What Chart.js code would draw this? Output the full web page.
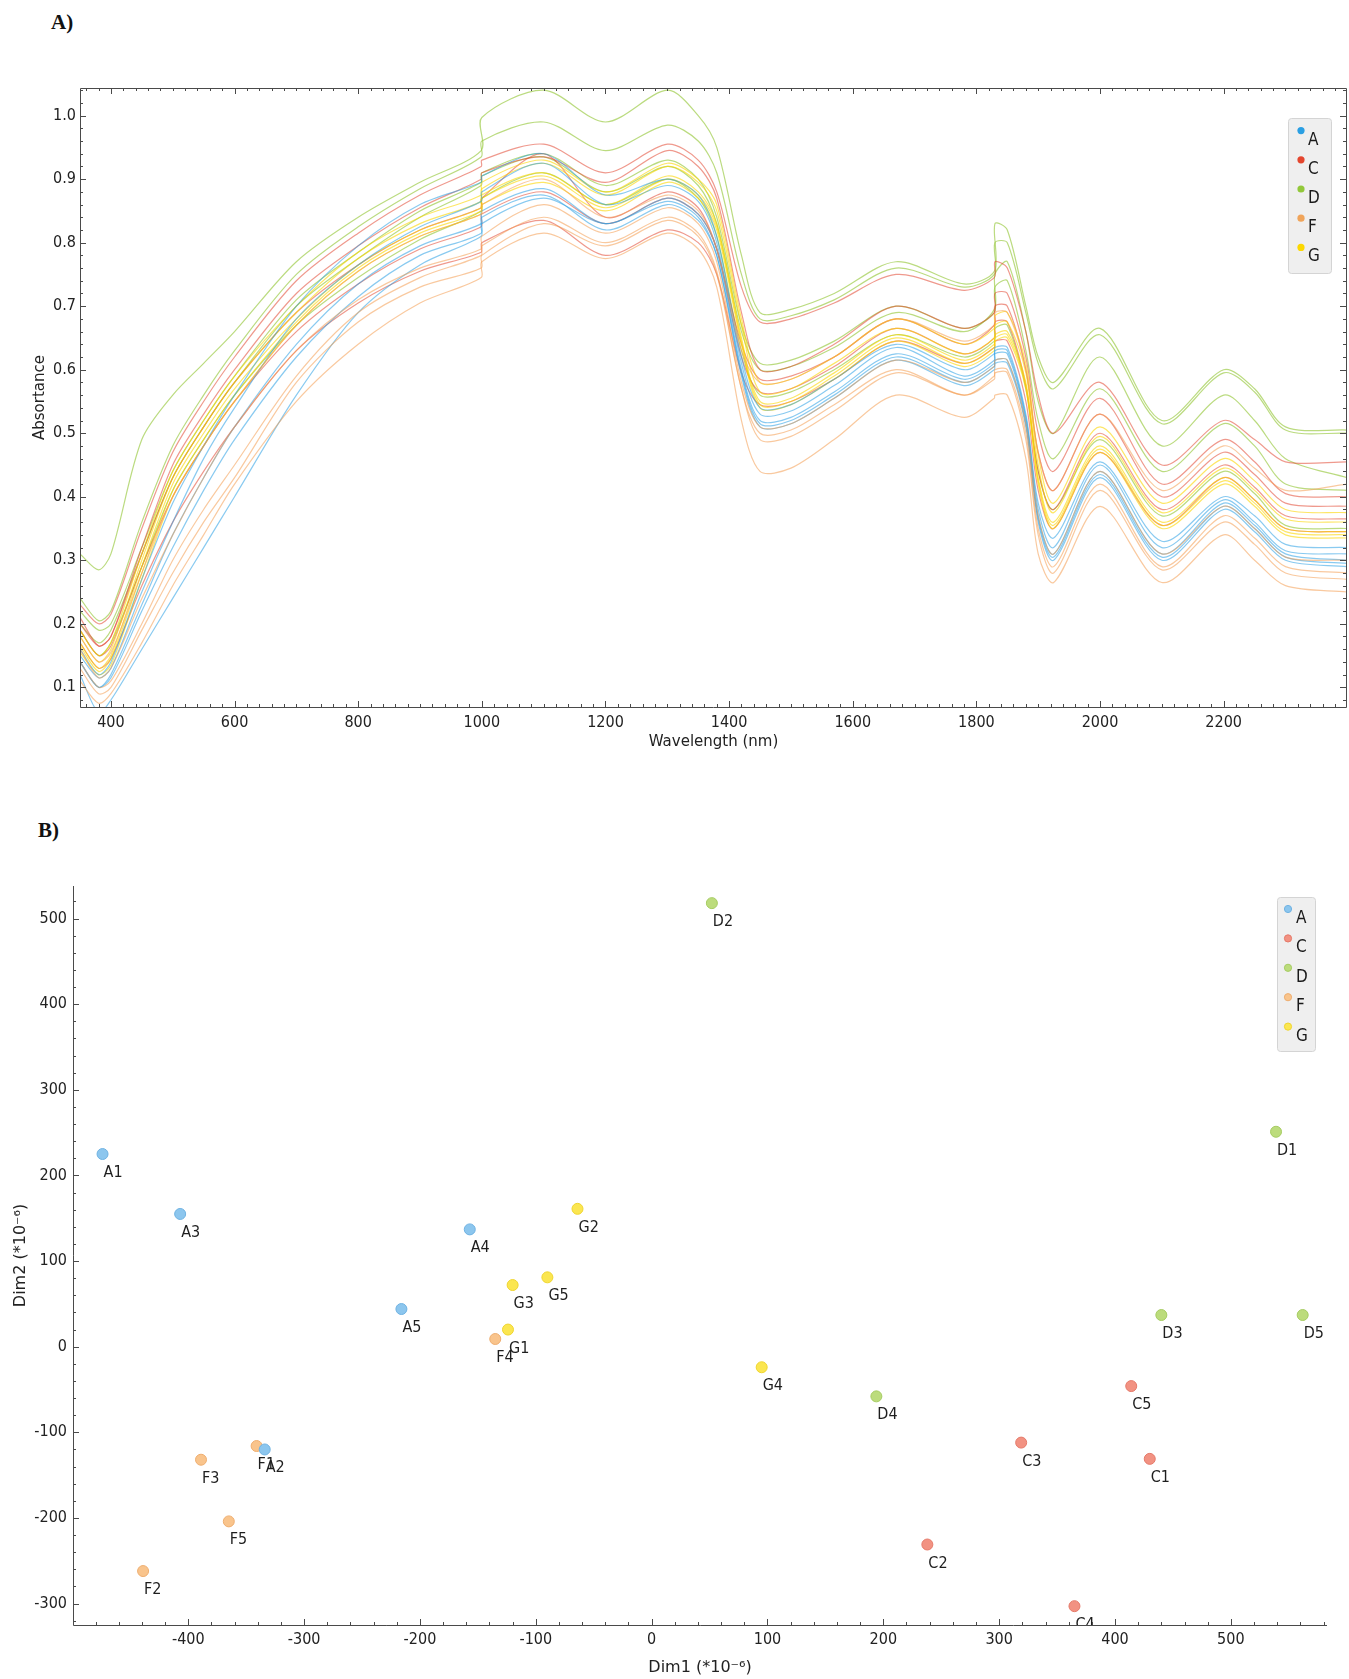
<!DOCTYPE html>
<html>
<head>
<meta charset="utf-8">
<script src="https://cdn.jsdelivr.net/npm/chart.js@4.4.1/dist/chart.umd.min.js"></script>
<style>
  body { margin: 0; background: #fff; width: 1349px; height: 1679px; position: relative; overflow: hidden; }
  .panel { position: absolute; font: bold 21px 'Liberation Serif', 'Times New Roman', serif; color: #111; }
  canvas { position: absolute; left: 0; }
</style>
</head>
<body>
<div class="panel" style="left:51px; top:10px;">A)</div>
<div class="panel" style="left:38px; top:818px;">B)</div>
<canvas id="spectra" width="1349" height="760" style="top:0"></canvas>
<canvas id="scores" width="1349" height="829" style="top:850px"></canvas>
<script>
// ---- data: NIR spectra (panel A) ----
const wavelengths = [350, 380, 400, 450, 500, 550, 600, 700, 800, 900,
  999, 1000, 1100, 1200, 1300, 1350, 1380, 1420, 1450, 1500,
  1570, 1670, 1780, 1829, 1830, 1850, 1880, 1900, 1925, 2000,
  2100, 2200, 2250, 2300, 2400];

const absA1 = [0.12, 0.06, 0.08, 0.16, 0.24, 0.32, 0.40, 0.56, 0.69, 0.765,
  0.81, 0.83, 0.87, 0.83, 0.865, 0.84, 0.78, 0.59, 0.51, 0.515,
  0.555, 0.615, 0.575, 0.60, 0.61, 0.61, 0.51, 0.36, 0.30, 0.43,
  0.30, 0.38, 0.345, 0.30, 0.29];
const absA2 = [0.14, 0.10, 0.12, 0.23, 0.34, 0.43, 0.51, 0.64, 0.735, 0.795,
  0.83, 0.85, 0.885, 0.83, 0.87, 0.845, 0.79, 0.60, 0.52, 0.525,
  0.565, 0.625, 0.585, 0.61, 0.625, 0.625, 0.52, 0.37, 0.31, 0.44,
  0.31, 0.39, 0.355, 0.31, 0.30];
const absA3 = [0.15, 0.115, 0.13, 0.25, 0.36, 0.46, 0.54, 0.68, 0.765, 0.825,
  0.865, 0.88, 0.925, 0.86, 0.89, 0.865, 0.80, 0.61, 0.53, 0.535,
  0.575, 0.635, 0.59, 0.615, 0.63, 0.63, 0.525, 0.38, 0.32, 0.45,
  0.32, 0.395, 0.36, 0.315, 0.31];
const absA4 = [0.16, 0.12, 0.14, 0.27, 0.39, 0.48, 0.56, 0.70, 0.795, 0.86,
  0.895, 0.905, 0.94, 0.875, 0.90, 0.875, 0.81, 0.62, 0.54, 0.545,
  0.585, 0.64, 0.60, 0.625, 0.635, 0.635, 0.53, 0.39, 0.335, 0.455,
  0.33, 0.40, 0.37, 0.325, 0.32];
const absA5 = [0.14, 0.10, 0.115, 0.22, 0.32, 0.41, 0.49, 0.62, 0.715, 0.78,
  0.815, 0.84, 0.875, 0.82, 0.86, 0.835, 0.78, 0.595, 0.515, 0.52,
  0.56, 0.62, 0.58, 0.605, 0.615, 0.615, 0.515, 0.365, 0.305, 0.435,
  0.305, 0.385, 0.35, 0.305, 0.295];

const absC1 = [0.23, 0.20, 0.215, 0.35, 0.47, 0.55, 0.62, 0.74, 0.815, 0.875,
  0.92, 0.93, 0.955, 0.91, 0.955, 0.93, 0.88, 0.73, 0.675, 0.68,
  0.705, 0.75, 0.725, 0.745, 0.77, 0.76, 0.66, 0.56, 0.50, 0.58,
  0.45, 0.52, 0.49, 0.455, 0.455];
const absC2 = [0.21, 0.165, 0.18, 0.31, 0.43, 0.51, 0.58, 0.69, 0.765, 0.82,
  0.855, 0.87, 0.94, 0.84, 0.88, 0.855, 0.79, 0.64, 0.585, 0.59,
  0.62, 0.68, 0.64, 0.67, 0.70, 0.70, 0.60, 0.47, 0.41, 0.53,
  0.40, 0.47, 0.435, 0.39, 0.385];
const absC3 = [0.19, 0.15, 0.165, 0.29, 0.40, 0.48, 0.55, 0.66, 0.735, 0.79,
  0.825, 0.845, 0.88, 0.83, 0.87, 0.845, 0.79, 0.62, 0.565, 0.57,
  0.605, 0.665, 0.625, 0.65, 0.675, 0.675, 0.575, 0.44, 0.38, 0.50,
  0.38, 0.45, 0.415, 0.37, 0.365];
const absC4 = [0.17, 0.13, 0.145, 0.26, 0.36, 0.44, 0.51, 0.63, 0.705, 0.755,
  0.785, 0.80, 0.835, 0.78, 0.82, 0.80, 0.75, 0.595, 0.545, 0.55,
  0.585, 0.645, 0.61, 0.635, 0.645, 0.645, 0.55, 0.41, 0.35, 0.47,
  0.355, 0.43, 0.395, 0.35, 0.345];
const absC5 = [0.20, 0.165, 0.18, 0.32, 0.45, 0.53, 0.60, 0.72, 0.795, 0.855,
  0.90, 0.91, 0.935, 0.895, 0.945, 0.92, 0.87, 0.69, 0.60, 0.605,
  0.64, 0.70, 0.665, 0.69, 0.72, 0.72, 0.62, 0.50, 0.44, 0.555,
  0.42, 0.49, 0.455, 0.405, 0.40];

const absD1 = [0.31, 0.285, 0.31, 0.49, 0.56, 0.61, 0.66, 0.77, 0.84, 0.895,
  0.945, 0.997, 1.04, 0.99, 1.04, 1.00, 0.95, 0.78, 0.69, 0.695,
  0.72, 0.77, 0.735, 0.755, 0.83, 0.82, 0.70, 0.62, 0.58, 0.665,
  0.52, 0.60, 0.57, 0.51, 0.505];
const absD2 = [0.24, 0.205, 0.22, 0.36, 0.48, 0.56, 0.63, 0.75, 0.825, 0.885,
  0.935, 0.96, 0.99, 0.945, 0.985, 0.96, 0.91, 0.75, 0.68, 0.685,
  0.71, 0.76, 0.73, 0.75, 0.80, 0.80, 0.69, 0.61, 0.57, 0.655,
  0.515, 0.595, 0.565, 0.505, 0.50];
const absD3 = [0.20, 0.17, 0.19, 0.31, 0.43, 0.51, 0.58, 0.70, 0.775, 0.84,
  0.89, 0.905, 0.935, 0.88, 0.92, 0.89, 0.83, 0.66, 0.60, 0.605,
  0.635, 0.69, 0.66, 0.695, 0.75, 0.77, 0.66, 0.55, 0.50, 0.62,
  0.48, 0.56, 0.52, 0.46, 0.43];
const absD4 = [0.19, 0.15, 0.17, 0.29, 0.41, 0.49, 0.56, 0.67, 0.745, 0.805,
  0.85, 0.87, 0.91, 0.86, 0.90, 0.87, 0.81, 0.63, 0.56, 0.565,
  0.60, 0.655, 0.62, 0.645, 0.665, 0.67, 0.57, 0.44, 0.38, 0.49,
  0.37, 0.44, 0.405, 0.355, 0.35];
const absD5 = [0.22, 0.19, 0.20, 0.32, 0.44, 0.52, 0.59, 0.71, 0.785, 0.85,
  0.895, 0.91, 0.94, 0.89, 0.93, 0.90, 0.84, 0.67, 0.61, 0.615,
  0.645, 0.70, 0.665, 0.69, 0.73, 0.74, 0.63, 0.52, 0.46, 0.57,
  0.44, 0.515, 0.48, 0.42, 0.41];

const absF1 = [0.13, 0.09, 0.10, 0.19, 0.28, 0.36, 0.43, 0.58, 0.675, 0.73,
  0.76, 0.78, 0.83, 0.795, 0.835, 0.81, 0.75, 0.57, 0.50, 0.505,
  0.545, 0.60, 0.56, 0.59, 0.60, 0.60, 0.50, 0.35, 0.29, 0.42,
  0.29, 0.37, 0.335, 0.29, 0.28];
const absF2 = [0.11, 0.075, 0.09, 0.17, 0.26, 0.34, 0.42, 0.55, 0.64, 0.705,
  0.745, 0.77, 0.815, 0.775, 0.815, 0.79, 0.73, 0.52, 0.44, 0.445,
  0.49, 0.56, 0.525, 0.555, 0.56, 0.56, 0.46, 0.31, 0.265, 0.385,
  0.265, 0.34, 0.30, 0.26, 0.25];
const absF3 = [0.16, 0.115, 0.13, 0.24, 0.34, 0.43, 0.51, 0.63, 0.71, 0.76,
  0.79, 0.81, 0.86, 0.815, 0.855, 0.83, 0.77, 0.58, 0.51, 0.515,
  0.555, 0.615, 0.58, 0.605, 0.615, 0.615, 0.515, 0.37, 0.31, 0.44,
  0.31, 0.385, 0.35, 0.305, 0.30];
const absF4 = [0.18, 0.14, 0.155, 0.28, 0.40, 0.48, 0.55, 0.67, 0.755, 0.81,
  0.845, 0.86, 0.90, 0.84, 0.875, 0.85, 0.79, 0.63, 0.58, 0.585,
  0.62, 0.68, 0.645, 0.67, 0.69, 0.69, 0.60, 0.47, 0.41, 0.53,
  0.41, 0.48, 0.445, 0.41, 0.42];
const absF5 = [0.14, 0.10, 0.11, 0.20, 0.30, 0.38, 0.45, 0.59, 0.69, 0.745,
  0.78, 0.795, 0.84, 0.80, 0.84, 0.815, 0.755, 0.57, 0.49, 0.495,
  0.535, 0.595, 0.56, 0.585, 0.595, 0.595, 0.49, 0.34, 0.28, 0.41,
  0.285, 0.36, 0.325, 0.28, 0.27];

const absG1 = [0.17, 0.13, 0.15, 0.29, 0.42, 0.50, 0.57, 0.68, 0.765, 0.82,
  0.855, 0.875, 0.91, 0.86, 0.905, 0.88, 0.83, 0.65, 0.55, 0.555,
  0.595, 0.655, 0.615, 0.64, 0.655, 0.66, 0.58, 0.43, 0.36, 0.48,
  0.36, 0.43, 0.395, 0.35, 0.345];
const absG2 = [0.18, 0.14, 0.16, 0.30, 0.43, 0.51, 0.58, 0.69, 0.775, 0.83,
  0.865, 0.885, 0.925, 0.875, 0.92, 0.895, 0.85, 0.67, 0.565, 0.57,
  0.61, 0.665, 0.625, 0.65, 0.67, 0.675, 0.595, 0.45, 0.375, 0.495,
  0.375, 0.445, 0.41, 0.365, 0.36];
const absG3 = [0.155, 0.12, 0.135, 0.27, 0.40, 0.48, 0.55, 0.67, 0.755, 0.81,
  0.845, 0.86, 0.895, 0.85, 0.895, 0.87, 0.82, 0.64, 0.54, 0.545,
  0.585, 0.645, 0.605, 0.63, 0.645, 0.65, 0.57, 0.42, 0.35, 0.47,
  0.35, 0.42, 0.385, 0.34, 0.335];
const absG4 = [0.19, 0.15, 0.17, 0.31, 0.44, 0.52, 0.59, 0.70, 0.785, 0.84,
  0.875, 0.895, 0.93, 0.88, 0.925, 0.90, 0.86, 0.68, 0.58, 0.585,
  0.62, 0.68, 0.64, 0.665, 0.685, 0.69, 0.61, 0.465, 0.39, 0.51,
  0.39, 0.46, 0.425, 0.38, 0.375];
const absG5 = [0.165, 0.125, 0.145, 0.28, 0.41, 0.49, 0.56, 0.675, 0.76, 0.815,
  0.85, 0.87, 0.905, 0.855, 0.90, 0.875, 0.825, 0.645, 0.545, 0.55,
  0.59, 0.65, 0.61, 0.635, 0.65, 0.655, 0.575, 0.425, 0.355, 0.475,
  0.355, 0.425, 0.39, 0.345, 0.34];

// ---- data: scores (panel B) ----
const scoreNames = ['A1', 'A2', 'A3', 'A4', 'A5', 'C1', 'C2', 'C3', 'C4', 'C5',
  'D1', 'D2', 'D3', 'D4', 'D5', 'F1', 'F2', 'F3', 'F4', 'F5',
  'G1', 'G2', 'G3', 'G4', 'G5'];
const scoreDim1 = [-474, -334, -407, -157, -216, 430, 238, 319, 365, 414,
  539, 52, 440, 194, 562, -341, -439, -389, -135, -365,
  -124, -64, -120, 95, -90];
const scoreDim2 = [225, -120, 155, 137, 44, -131, -231, -112, -303, -46,
  251, 518, 37, -58, 37, -116, -262, -132, 9, -204,
  20, 161, 72, -24, 81];

const groups = ['A', 'C', 'D', 'F', 'G'];
const lineColors = ['rgba(40,158,228,0.55)', 'rgba(226,70,48,0.55)', 'rgba(150,200,60,0.65)',
  'rgba(244,156,80,0.55)', 'rgba(252,214,0,0.6)'];
const dotColors = ['#2a9fe3', '#e4462e', '#92c83a', '#f0a45a', '#fcd800'];
const scoreFill = ['#8cc6ee', '#f29282', '#bcdc7c', '#f9c48c', '#fbe650'];
const scoreEdge = ['#6fb2e2', '#e57a6a', '#a6cc62', '#eeae70', '#efd530'];

const FONT = "'DejaVu Sans Condensed', 'DejaVu Sans', sans-serif";
Chart.defaults.font.family = FONT;
Chart.defaults.font.size = 16;
Chart.defaults.color = '#222';

// frame line + small inward tick marks, placed through the chart scales
const frameTicks = {
  id: 'frameTicks',
  afterDraw(chart, args, o) {
    const { ctx, chartArea: a } = chart;
    const xs = chart.scales.x, ys = chart.scales.y;
    ctx.save();
    ctx.strokeStyle = '#4a4a4a';
    ctx.lineWidth = 1;
    ctx.beginPath();
    if (o.box) {
      ctx.rect(a.left + 0.5, a.top + 0.5, a.right - a.left - 1, a.bottom - a.top);
    } else {
      ctx.moveTo(a.left + 0.5, a.top);
      ctx.lineTo(a.left + 0.5, a.bottom + 0.5);
      ctx.lineTo(a.right, a.bottom + 0.5);
    }
    const mark = (scale, step, major, fn) => {
      const start = Math.ceil(scale.min / step - 1e-9);
      for (let k = start; k * step <= scale.max + 1e-9; k++) {
        const v = k * step;
        const isMajor = Math.abs(v / major - Math.round(v / major)) < 1e-6;
        fn(Math.round(scale.getPixelForValue(v)) + 0.5, isMajor ? 6 : 3);
      }
    };
    mark(xs, o.xMinor, o.xMajor, (px, len) => {
      ctx.moveTo(px, a.bottom); ctx.lineTo(px, a.bottom - len);
      if (o.box) { ctx.moveTo(px, a.top); ctx.lineTo(px, a.top + len); }
    });
    mark(ys, o.yMinor, o.yMajor, (py, len) => {
      ctx.moveTo(a.left, py); ctx.lineTo(a.left + len, py);
      if (o.box) { ctx.moveTo(a.right - 1, py); ctx.lineTo(a.right - 1 - len, py); }
    });
    ctx.stroke();
    ctx.restore();
  }
};

// grey legend box inside the plot
const boxLegend = {
  id: 'boxLegend',
  afterDraw(chart, args, o) {
    const { ctx, chartArea: a } = chart;
    const left = a.right - o.right - o.w, top = a.top + o.top;
    ctx.save();
    ctx.fillStyle = '#efefef';
    ctx.strokeStyle = '#d4d4d4';
    ctx.lineWidth = 1;
    ctx.beginPath();
    ctx.roundRect(left + 0.5, top + 0.5, o.w, o.h, 3);
    ctx.fill();
    ctx.stroke();
    ctx.font = o.fontSize + 'px ' + FONT;
    ctx.textBaseline = 'alphabetic';
    groups.forEach((g, i) => {
      const cy = top + o.dotY + i * o.gap;
      ctx.beginPath();
      ctx.arc(left + o.dotX, cy, o.r, 0, Math.PI * 2);
      ctx.fillStyle = o.fill[i];
      ctx.fill();
      if (o.edge) { ctx.strokeStyle = o.edge[i]; ctx.stroke(); }
      ctx.fillStyle = '#1a1a1a';
      ctx.fillText(g, left + o.textX, cy + o.textDy);
    });
    ctx.restore();
  }
};

// sample names under each score point
const pointNames = {
  id: 'pointNames',
  afterDatasetsDraw(chart) {
    const { ctx, chartArea: a } = chart;
    ctx.save();
    ctx.beginPath();
    ctx.rect(a.left, a.top, a.right - a.left, a.bottom - a.top);
    ctx.clip();
    ctx.font = '16px ' + FONT;
    ctx.fillStyle = '#1e1e1e';
    ctx.textBaseline = 'alphabetic';
    chart.data.datasets.forEach((ds, i) => {
      chart.getDatasetMeta(i).data.forEach((pt, j) => {
        ctx.fillText(ds.data[j].name, pt.x + 1, pt.y + 23);
      });
    });
    ctx.restore();
  }
};

// ---- panel A ----
const spectraRows = [
  ['F1', absF1], ['F2', absF2], ['F3', absF3], ['F4', absF4], ['F5', absF5],
  ['A1', absA1], ['A2', absA2], ['A3', absA3], ['A4', absA4], ['A5', absA5],
  ['G1', absG1], ['G2', absG2], ['G3', absG3], ['G4', absG4], ['G5', absG5],
  ['C1', absC1], ['C2', absC2], ['C3', absC3], ['C4', absC4], ['C5', absC5],
  ['D1', absD1], ['D2', absD2], ['D3', absD3], ['D4', absD4], ['D5', absD5]
];

const spectraChart = new Chart(document.getElementById('spectra'), {
  type: 'line',
  data: {
    datasets: spectraRows.map(([name, vals]) => ({
      label: name,
      data: wavelengths.map((w, i) => ({ x: w, y: vals[i] })),
      borderColor: lineColors[groups.indexOf(name[0])],
      borderWidth: 1.2,
      pointRadius: 0,
      tension: 0.3,
      fill: false
    }))
  },
  options: {
    responsive: false,
    animation: false,
    layout: { padding: { top: 88, left: 0, right: 2, bottom: 3 } },
    plugins: {
      legend: { display: false },
      tooltip: { enabled: false },
      frameTicks: { box: true, xMinor: 20, xMajor: 200, yMinor: 0.02, yMajor: 0.1 },
      boxLegend: { right: 16, top: 30, w: 43, h: 155, dotX: 13, dotY: 12.6, gap: 29.2,
        textX: 20, textDy: 14, r: 3.6, fontSize: 17, fill: dotColors }
    },
    scales: {
      x: {
        type: 'linear',
        min: 350,
        max: 2399.5,
        grid: { display: false, drawTicks: false },
        border: { display: false },
        ticks: { stepSize: 200, includeBounds: false, padding: 6, maxRotation: 0,
          callback: (v) => String(v) },
        title: { display: true, text: 'Wavelength (nm)', font: { size: 15, family: "'DejaVu Sans', sans-serif" },
          padding: { top: 0, bottom: 6 } },
        afterFit: (s) => { s.height = 50; }
      },
      y: {
        min: 0.069,
        max: 1.0435,
        grid: { display: false, drawTicks: false },
        border: { display: false },
        ticks: { stepSize: 0.1, includeBounds: false, padding: 4, callback: (v) => v.toFixed(1) },
        title: { display: true, text: 'Absortance', font: { size: 15, family: "'DejaVu Sans', sans-serif" },
          padding: { top: 31, bottom: 0 } },
        afterFit: (s) => { s.width = 80; }
      }
    }
  },
  plugins: [frameTicks, boxLegend]
});

// ---- panel B ----
const scoresChart = new Chart(document.getElementById('scores'), {
  type: 'scatter',
  data: {
    datasets: groups.map((g, gi) => ({
      label: g,
      data: scoreNames
        .map((n, i) => ({ x: scoreDim1[i], y: scoreDim2[i], name: n }))
        .filter((p) => p.name[0] === g),
      backgroundColor: scoreFill[gi],
      borderColor: scoreEdge[gi],
      borderWidth: 1,
      pointRadius: 5.5
    }))
  },
  options: {
    responsive: false,
    animation: false,
    layout: { padding: { top: 36, left: 0, right: 22, bottom: 0 } },
    plugins: {
      legend: { display: false },
      tooltip: { enabled: false },
      frameTicks: { box: false, xMinor: 20, xMajor: 100, yMinor: 20, yMajor: 100 },
      boxLegend: { right: 12, top: 11, w: 38, h: 154, dotX: 11, dotY: 12, gap: 29.4,
        textX: 19, textDy: 14, r: 3.6, fontSize: 17, fill: scoreFill, edge: scoreEdge }
    },
    scales: {
      x: {
        type: 'linear',
        min: -499.5,
        max: 583,
        grid: { display: false, drawTicks: false },
        border: { display: false },
        ticks: { stepSize: 100, includeBounds: false, padding: 5, maxRotation: 0,
          callback: (v) => String(v) },
        title: { display: true, text: 'Dim1 (*10\u207B\u2076)', font: { size: 16, family: "'DejaVu Sans', sans-serif" },
          padding: { top: 0, bottom: 2 } },
        afterFit: (s) => { s.height = 54; }
      },
      y: {
        min: -325,
        max: 538,
        grid: { display: false, drawTicks: false },
        border: { display: false },
        ticks: { stepSize: 100, includeBounds: false, padding: 6, callback: (v) => String(v) },
        title: { display: true, text: 'Dim2 (*10\u207B\u2076)', font: { size: 16, family: "'DejaVu Sans', sans-serif" },
          padding: { top: 11, bottom: 0 } },
        afterFit: (s) => { s.width = 73; }
      }
    }
  },
  plugins: [frameTicks, boxLegend, pointNames]
});
</script>
</body>
</html>
